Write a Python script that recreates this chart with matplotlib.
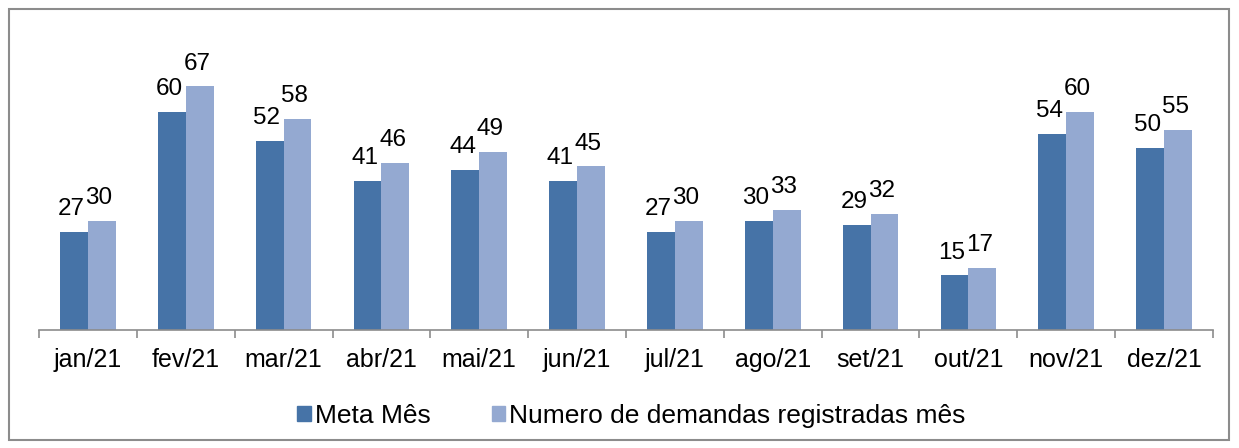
import matplotlib
matplotlib.use("Agg")
import matplotlib.pyplot as plt
import numpy as np
from matplotlib.patches import Rectangle, Patch

plt.rcParams['font.family'] = ['Liberation Sans', 'DejaVu Sans']

categories = ["jan/21", "fev/21", "mar/21", "abr/21", "mai/21", "jun/21",
              "jul/21", "ago/21", "set/21", "out/21", "nov/21", "dez/21"]
meta = [27, 60, 52, 41, 44, 41, 27, 30, 29, 15, 54, 50]
registradas = [30, 67, 58, 46, 49, 45, 30, 33, 32, 17, 60, 55]
series_names = ["Meta Mês", "Numero de demandas registradas mês"]

c_dark = "#4673A7"
c_light = "#94A9D1"

fig = plt.figure(figsize=(12.39, 4.48), dpi=100)
fig.patches.append(Rectangle((9/1239, 8/448), 1220/1239, 431/448, transform=fig.transFigure,
                             fill=False, edgecolor="#8c8c8c", linewidth=1.5))
ax = fig.add_axes([39/1239, 1-330/448, (1213-39)/1239, (330-39)/448])

x = np.arange(len(categories))
w = 0.285
b1 = ax.bar(x - w/2, meta, w, color=c_dark, label=series_names[0])
b2 = ax.bar(x + w/2, registradas, w, color=c_light, label=series_names[1])
for bars in (b1, b2):
    for r in bars:
        ax.annotate(f"{int(r.get_height())}", (r.get_x() + r.get_width()/2, r.get_height()),
                    xytext=(-2, 12), textcoords="offset points", ha="center", va="baseline",
                    fontsize=17.5, color="black")

ax.set_xlim(-0.5, len(categories) - 0.5)
ax.set_ylim(0, 80)
ax.set_yticks([])
for s in ("top", "right", "left"):
    ax.spines[s].set_visible(False)
ax.spines["bottom"].set_color("#8c8c8c")
ax.spines["bottom"].set_linewidth(1.2)
ax.set_xticks(np.arange(len(categories) + 1) - 0.5, minor=False)
ax.set_xticklabels([])
ax.tick_params(axis="x", which="major", length=6, color="#8c8c8c", width=1.2, direction="out")
ax.set_xticks(x, minor=True)
ax.set_xticklabels(categories, minor=True, fontsize=18)
ax.tick_params(axis="x", which="minor", length=0, pad=13)

handles = [Patch(color=c_dark), Patch(color=c_light)]
fig.legend(handles, series_names, loc="center", bbox_to_anchor=(0.5 + 12/1239, 1-416/448), ncol=2,
           frameon=False, fontsize=19, handlelength=0.52, handleheight=0.52,
           handletextpad=0.15, columnspacing=2.3)

fig.savefig("out.png", dpi=100)
